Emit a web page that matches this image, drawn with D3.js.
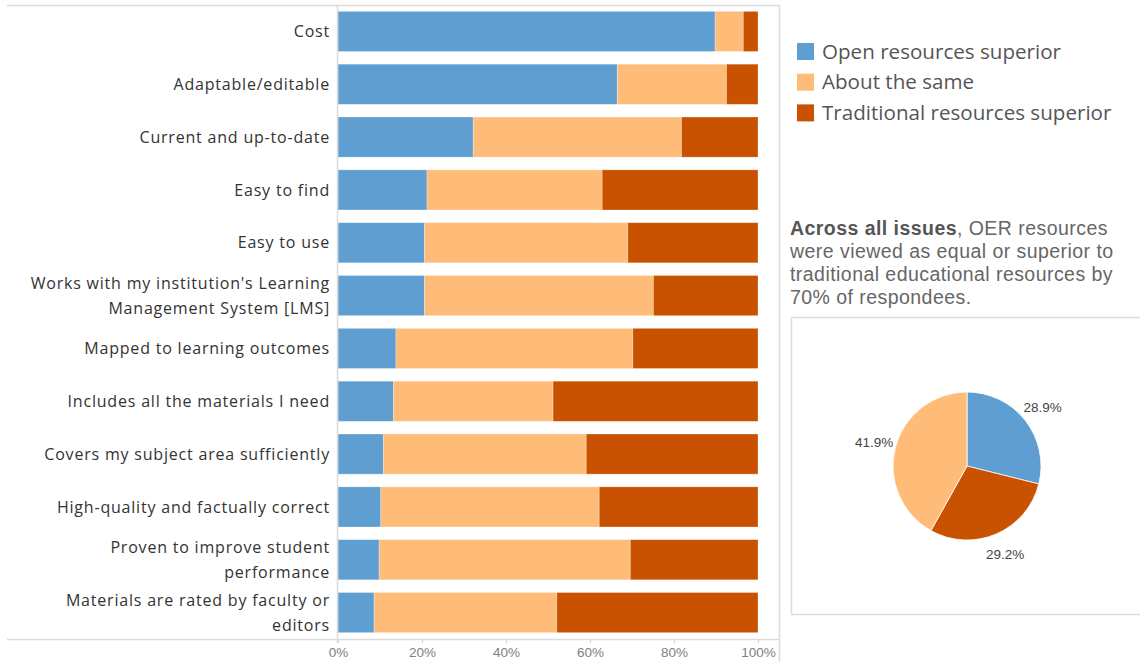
<!DOCTYPE html>
<meta charset="utf-8">
<html>
<head>
<script src="https://d3js.org/d3.v7.min.js"></script>
<style>
  body { margin: 0; background: #fff; }
</style>
</head>
<body>
<div id="chart"></div>
<script>

// categories, top to bottom (line breaks as in the original)
var categories = [
    ["Cost"],
    ["Adaptable/editable"],
    ["Current and up-to-date"],
    ["Easy to find"],
    ["Easy to use"],
    ["Works with my institution's Learning", "Management System [LMS]"],
    ["Mapped to learning outcomes"],
    ["Includes all the materials I need"],
    ["Covers my subject area sufficiently"],
    ["High-quality and factually correct"],
    ["Proven to improve student", "performance"],
    ["Materials are rated by faculty or", "editors"]
];

var seriesNames = ["Open resources superior", "About the same", "Traditional resources superior"];

// percentages per category
var openSuperior = [89.8, 66.5, 32.2, 21.2, 20.6, 20.6, 13.8, 13.2, 10.8, 10.2, 9.8, 8.6];
var aboutSame    = [6.7, 26.0, 49.6, 41.7, 48.4, 54.5, 56.4, 38.0, 48.3, 52.0, 59.8, 43.5];
var tradSuperior = [3.5, 7.5, 18.2, 37.1, 31.0, 24.9, 29.8, 48.8, 40.9, 37.8, 30.4, 47.9];

var tickValues = [0, 20, 40, 60, 80, 100];

// overall pie (clockwise from top)
var pieNames = ["Open resources superior", "Traditional resources superior", "About the same"];
var pieValues = [28.9, 29.2, 41.9];

var colors = ["#5f9ed1", "#ffbc79", "#c85200"];

var W = 1140, H = 662;

var svg = d3.select("#chart")
    .append("svg")
    .attr("width", W)
    .attr("height", H);

var color = d3.scaleOrdinal()
    .domain(seriesNames)
    .range(colors);

// ---- bar panel ----
var x = d3.scaleLinear()
    .domain([0, 100])
    .range([338, 758]);

var y = d3.scaleBand()
    .domain(d3.range(categories.length))
    .range([5, 639])
    .paddingInner(0.24)
    .paddingOuter(0.12);

// panel frame
svg.append("line")
    .attr("x1", 7).attr("x2", 779).attr("y1", 5.5).attr("y2", 5.5)
    .attr("stroke", "#dcdcdc").attr("stroke-width", 1.5);
svg.append("line")
    .attr("x1", 779.5).attr("x2", 779.5).attr("y1", 5).attr("y2", H)
    .attr("stroke", "#dcdcdc").attr("stroke-width", 1.5);

var rows = categories.map(function (c, i) {
    return { i: i, label: c, open: openSuperior[i], same: aboutSame[i], trad: tradSuperior[i] };
});

var stack = d3.stack().keys(["open", "same", "trad"]);
var stacked = stack(rows);

svg.append("g")
    .selectAll("g")
    .data(stacked)
    .enter()
    .append("g")
    .attr("fill", function (d, k) { return colors[k]; })
    .selectAll("rect")
    .data(function (d) { return d; })
    .enter()
    .append("rect")
    .attr("x", function (d) { return x(d[0]); })
    .attr("width", function (d) { return x(d[1]) - x(d[0]); })
    .attr("y", function (d) { return y(d.data.i); })
    .attr("height", y.bandwidth())
    .attr("stroke", "#ffffff")
    .attr("stroke-opacity", 0.35)
    .attr("stroke-width", 0.8);

// x axis
var xAxis = svg.append("g")
    .attr("transform", "translate(0,639)")
    .call(d3.axisBottom(x).tickValues(tickValues).tickSize(4).tickFormat(function (d) { return d + "%"; }));
xAxis.select(".domain").remove();
xAxis.selectAll(".tick line").attr("stroke", "#cfcfcf");
xAxis.selectAll(".tick text")
    .attr("fill", "#808080")
    .attr("dy", "0.85em")
    .style("font-family", "Liberation Sans, Arial, sans-serif")
    .style("font-size", "13.5px");

svg.append("line")
    .attr("x1", 7).attr("x2", 779).attr("y1", 639.5).attr("y2", 639.5)
    .attr("stroke", "#dcdcdc").attr("stroke-width", 1.5);
svg.append("line")
    .attr("x1", 337.5).attr("x2", 337.5).attr("y1", 5).attr("y2", 643)
    .attr("stroke", "#dcdcdc").attr("stroke-width", 1.5);

// category labels
var labels = svg.append("g")
    .selectAll("text")
    .data(rows)
    .enter()
    .append("text")
    .attr("text-anchor", "end")
    .attr("fill", "#333")
    .style("font-family", "Open Sans, sans-serif")
    .style("font-size", "16px")
    .style("letter-spacing", "0.8px");

labels.each(function (d) {
    var t = d3.select(this);
    var cy = y(d.i) + y.bandwidth() / 2;
    var n = d.label.length;
    d.label.forEach(function (line, j) {
        t.append("tspan")
            .attr("x", 330)
            .attr("y", cy + (j - (n - 1) / 2) * 25)
            .attr("dy", "0.35em")
            .text(line);
    });
});

// ---- legend ----
var legend = svg.append("g")
    .selectAll("g")
    .data(seriesNames)
    .enter()
    .append("g")
    .attr("transform", function (d, i) { return "translate(797," + (51.5 + i * 30.7) + ")"; });

legend.append("rect")
    .attr("x", 0).attr("y", -8.5)
    .attr("width", 17).attr("height", 17)
    .attr("fill", function (d) { return color(d); });

legend.append("text")
    .attr("x", 25)
    .attr("dy", "0.35em")
    .attr("fill", "#555")
    .style("font-family", "Open Sans, sans-serif")
    .style("font-size", "20.6px")
    .text(function (d) { return d; });

// ---- annotation ----
var note = svg.append("text")
    .attr("fill", "#666")
    .style("font-family", "Liberation Sans, Arial, sans-serif")
    .style("font-size", "19.5px")
    .style("letter-spacing", "0.45px");

var noteLines = [
    [["Across all issues", true], [", OER resources", false]],
    [["were viewed as equal or superior to", false]],
    [["traditional educational resources by", false]],
    [["70% of respondees.", false]]
];

noteLines.forEach(function (parts, i) {
    parts.forEach(function (p, k) {
        var ts = note.append("tspan")
            .text(p[0]);
        if (k === 0) ts.attr("x", 790).attr("y", 234.5 + i * 23.3);
        if (p[1]) ts.attr("font-weight", "bold").attr("fill", "#555");
    });
});

// ---- pie panel ----
svg.append("rect")
    .attr("x", 791.5).attr("y", 317.5)
    .attr("width", 360).attr("height", 297)
    .attr("fill", "none")
    .attr("stroke", "#dcdcdc")
    .attr("stroke-width", 1.5);

var pie = d3.pie().sort(null).value(function (d) { return d.v; });
var pieData = pie(pieNames.map(function (n, i) { return { name: n, v: pieValues[i] }; }));

var r = 74;
var arc = d3.arc().innerRadius(0).outerRadius(r);
var labelArc = d3.arc().innerRadius(96).outerRadius(96);

var pieG = svg.append("g")
    .attr("transform", "translate(967,466)");

pieG.selectAll("path")
    .data(pieData)
    .enter()
    .append("path")
    .attr("d", arc)
    .attr("fill", function (d) { return color(d.data.name); })
    .attr("stroke", "#fff")
    .attr("stroke-width", 0.8);

pieG.selectAll("text")
    .data(pieData)
    .enter()
    .append("text")
    .attr("transform", function (d) { return "translate(" + labelArc.centroid(d) + ")"; })
    .attr("text-anchor", "middle")
    .attr("dy", "0.35em")
    .attr("fill", "#444")
    .style("font-family", "Liberation Sans, Arial, sans-serif")
    .style("font-size", "13.5px")
    .text(function (d) { return d.data.v.toFixed(1) + "%"; });

</script>
</body>
</html>
